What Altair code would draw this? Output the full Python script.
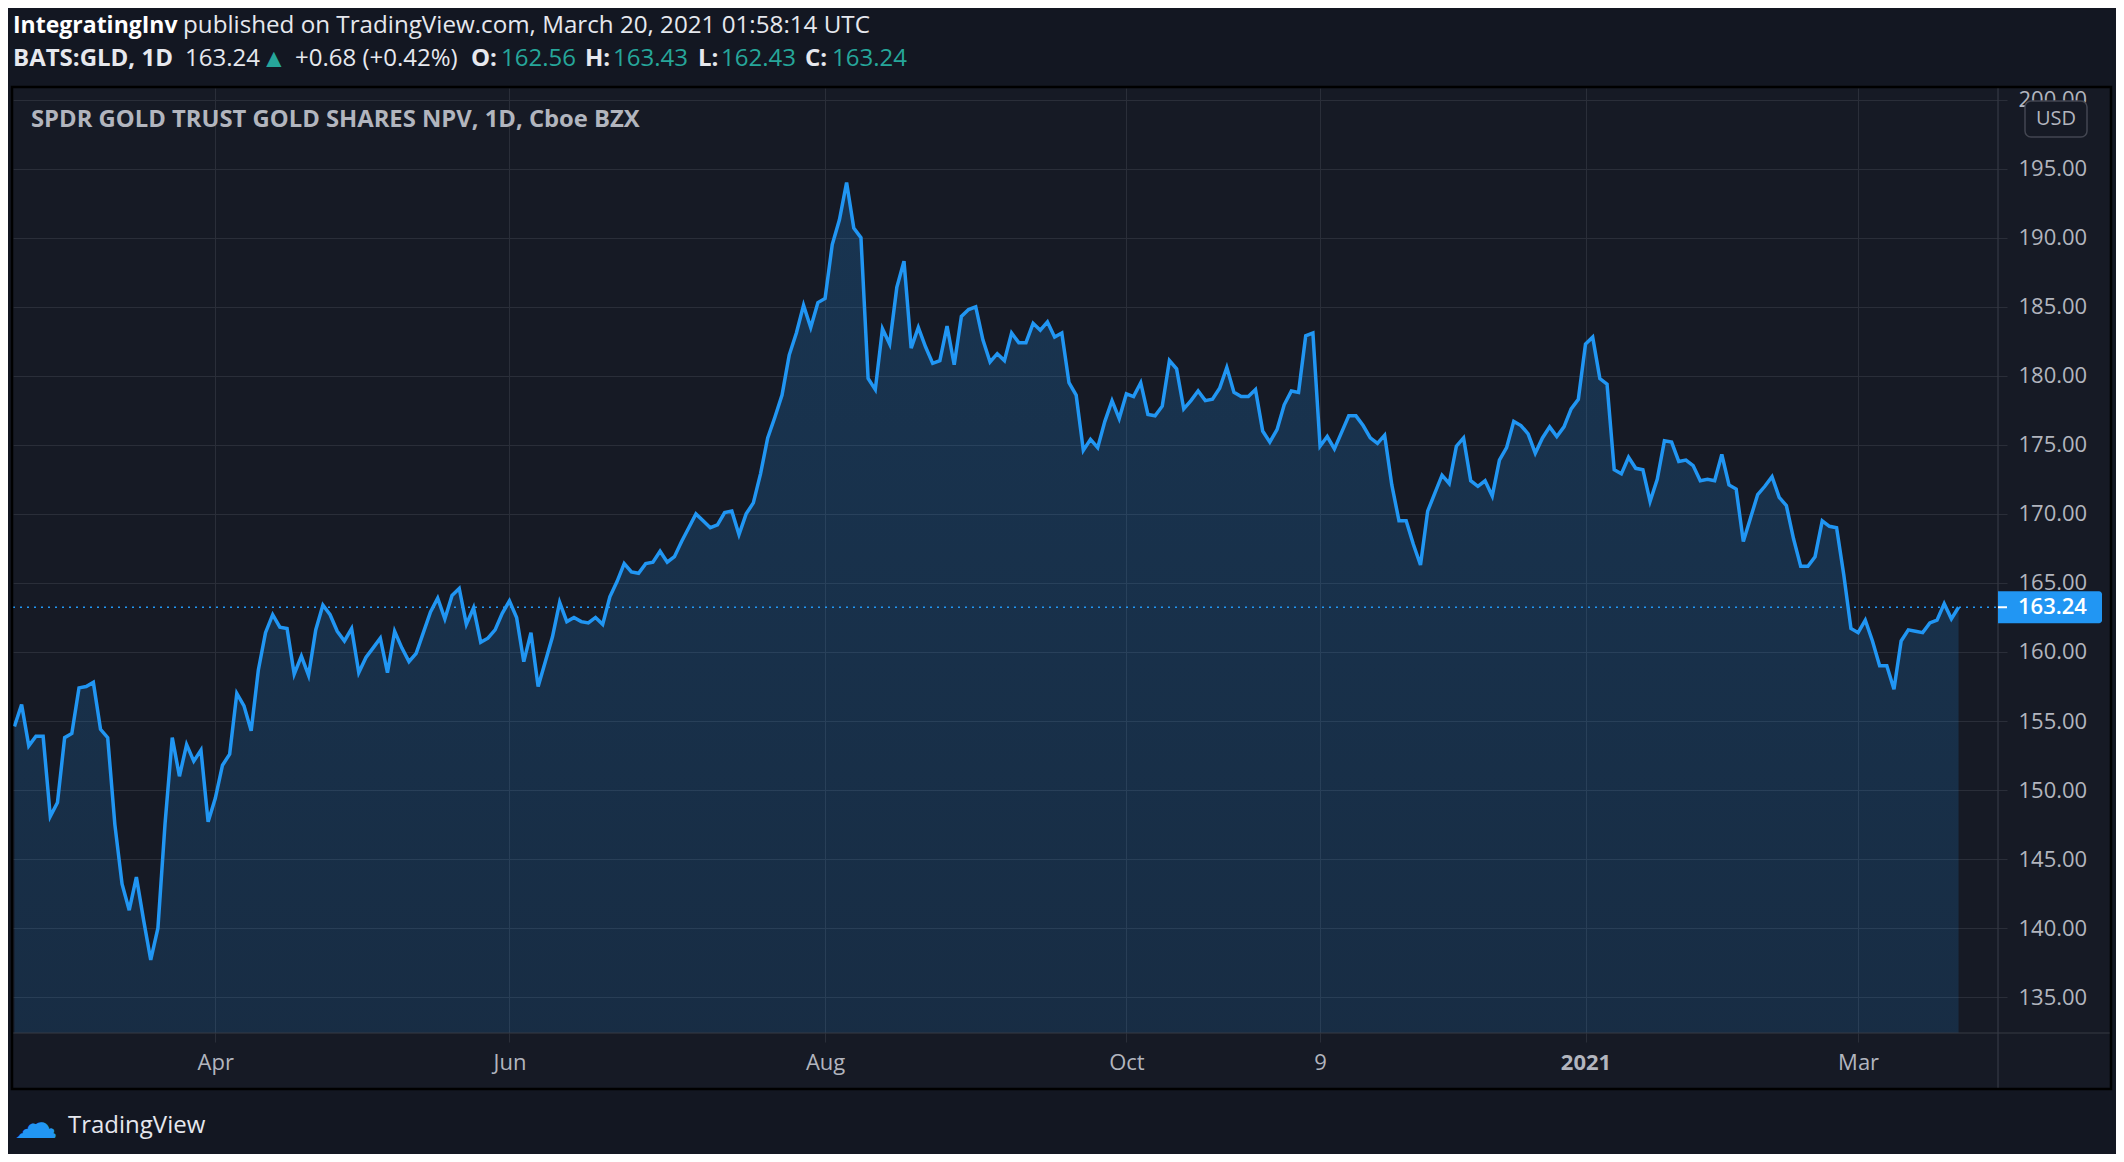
import altair as alt
import pandas as pd

# ---------------- data ----------------
close = [
    154.6, 156.2, 153.2, 153.9, 153.9, 148.1, 149.1, 153.8, 154.1, 157.4,
    157.5, 157.8, 154.4, 153.8, 147.5, 143.2, 141.3, 143.7, 140.6, 137.7,
    140.0, 147.6, 153.8, 151.0, 153.3, 152.1, 152.9, 147.7, 149.4, 151.8,
    152.6, 157.0, 156.1, 154.3, 158.7, 161.4, 162.7, 161.8, 161.7, 158.4,
    159.7, 158.3, 161.6, 163.4, 162.7, 161.5, 160.8, 161.7, 158.5, 159.6,
    160.3, 161.0, 158.5, 161.5,
    160.3, 159.3, 159.9, 161.4, 162.9, 163.9, 162.4, 164.1, 164.6, 162.0,
    163.2, 160.7, 161.0, 161.6, 162.8, 163.7, 162.5, 159.3, 161.4, 157.5,
    159.3, 161.1, 163.6, 162.2, 162.5, 162.2, 162.1, 162.5, 162.0, 164.0,
    165.1, 166.4, 165.8, 165.7, 166.4, 166.5, 167.3, 166.5, 166.9, 168.0,
    169.0, 170.0, 169.5, 169.0, 169.2, 170.1, 170.2, 168.5, 170.0, 170.8,
    172.9, 175.5, 177.0, 178.6,
    181.5, 183.1, 185.1, 183.5, 185.3, 185.6, 189.5, 191.3, 194.0, 190.7,
    190.0, 179.8, 179.0, 183.4, 182.3, 186.4, 188.3, 182.0, 183.5, 182.1,
    180.9, 181.1, 183.6, 180.8, 184.3, 184.8, 185.0, 182.6, 181.0, 181.6,
    181.1, 183.1, 182.4, 182.4, 183.8, 183.3, 183.9, 182.8, 183.1, 179.5,
    178.6, 174.6, 175.4, 174.8, 176.7, 178.2, 176.9, 178.7, 178.5, 179.5,
    177.2, 177.1, 177.8, 181.1, 180.5, 177.6, 178.2, 178.9,
    178.2, 178.3, 179.1, 180.6, 178.8, 178.5, 178.5, 179.0, 176.0, 175.2,
    176.1, 177.9, 178.9, 178.8, 182.9, 183.1, 174.9, 175.6, 174.7, 175.9,
    177.1, 177.1, 176.4, 175.5, 175.1, 175.7, 172.1, 169.5, 169.5, 167.8,
    166.3, 170.2, 171.5, 172.8, 172.2, 174.9, 175.5, 172.4, 172.0, 172.4,
    171.3, 173.9, 174.8, 176.7, 176.4, 175.8, 174.4, 175.5, 176.3, 175.6,
    176.3, 177.6, 178.3, 182.3, 182.8, 179.8,
    179.4, 173.2, 172.9, 174.1, 173.3, 173.2, 170.9, 172.5, 175.3, 175.2,
    173.8, 173.9, 173.5, 172.4, 172.5, 172.4, 174.3, 172.1, 171.8, 168.0,
    169.7, 171.4, 172.0, 172.7, 171.2, 170.6, 168.2, 166.2, 166.2, 166.9,
    169.5, 169.1, 169.0, 165.6, 161.7, 161.4, 162.3, 160.8, 159.0, 159.0,
    157.3, 160.8, 161.6, 161.5, 161.4, 162.1, 162.3, 163.5, 162.4, 163.24,
]

# time axis: bar index of each label and its text
tick_idx = [28, 69, 113, 155, 182, 219, 257]
tick_lbl = ["Apr", "Jun", "Aug", "Oct", "9", "2021", "Mar"]
bold_tick = 219

price_ticks = [135, 140, 145, 150, 155, 160, 165, 170, 175, 180, 185, 190, 195, 200]
last_price = 163.24

header_1 = ["IntegratingInv", "published on TradingView.com, March 20, 2021 01:58:14 UTC"]
header_2 = ["BATS:GLD, 1D", "163.24", "\u25B2", "+0.68 (+0.42%)",
            "O:", "162.56", "H:", "163.43", "L:", "162.43", "C:", "163.24"]
chart_title = "SPDR GOLD TRUST GOLD SHARES NPV, 1D, Cboe BZX"

# ---------------- style ----------------
FONT = "Open Sans"
BG_OUT = "#131722"
BG_PANE = "#161a25"
GRID = "#2a2e39"
SEP = "#363a45"
LBL = "#b2b5be"
BLUE = "#2196f3"
TEAL = "#26a69a"
WHITE = "#e6e8ee"

W, H = 1985, 945
X_DOM = [-0.2, 276.5]
Y_DOM = [132.41, 200.84]
PAD = {"left": 5, "top": 80, "right": 118, "bottom": 121}

xs = alt.Scale(domain=X_DOM, nice=False, zero=False)
ys = alt.Scale(domain=Y_DOM, nice=False, zero=False)

df = pd.DataFrame({"i": list(range(len(close))), "close": close})
one = pd.DataFrame({"k": [0]})

label_expr = "".join(f"datum.value == {i} ? '{l}' : " for i, l in zip(tick_idx, tick_lbl)) + "''"

x_axis = alt.Axis(
    values=tick_idx, labelExpr=label_expr, grid=True, gridColor=GRID, gridWidth=1,
    domain=False, ticks=True, tickSize=9, tickColor=GRID, labelColor=LBL,
    labelFont=FONT, labelFontSize=22, labelPadding=10, labelFlush=False,
    labelOverlap=False, title=None,
    labelFontWeight={"condition": {"test": f"datum.value == {bold_tick}", "value": "bold"},
                     "value": "normal"},
)
y_axis = alt.Axis(
    orient="right", values=price_ticks, format=".2f", grid=True, gridColor=GRID,
    gridWidth=1, domain=False, ticks=True, tickSize=9, tickColor=GRID,
    labelColor=LBL, labelFont=FONT, labelFontSize=22, labelPadding=11,
    labelOverlap=False, labelFlush=False, title=None,
)

grad = alt.LinearGradient(
    gradient="linear",
    stops=[alt.GradientStop(color="rgba(33,150,243,0.21)", offset=0),
           alt.GradientStop(color="rgba(33,150,243,0.02)", offset=1)],
    x1=0, x2=0, y1=0, y2=1,
)


def Y(datum):
    return alt.Y(datum=datum, scale=ys, axis=y_axis)


area = alt.Chart(df).mark_area(fill=grad, clip=True).encode(
    x=alt.X("i:Q", scale=xs, axis=x_axis),
    y=alt.Y("close:Q", scale=ys, axis=y_axis),
)
line = alt.Chart(df).mark_line(color=BLUE, strokeWidth=3.5, clip=True).encode(
    x=alt.X("i:Q", scale=xs, axis=x_axis),
    y=alt.Y("close:Q", scale=ys, axis=y_axis),
)
last_line = alt.Chart(one).mark_rule(color=BLUE, strokeWidth=1.6, strokeDash=[2, 5]).encode(
    x=alt.value(0), x2=alt.value(W), y=Y(last_price),
)


def rect(x0, x1, y0, y1, **kw):
    return alt.Chart(one).mark_rect(**kw).encode(
        x=alt.value(x0), x2=alt.value(x1), y=alt.value(y0), y2=alt.value(y1))


def vrule(x, y0, y1, color, width=1):
    return alt.Chart(one).mark_rule(color=color, strokeWidth=width).encode(
        x=alt.value(x), y=alt.value(y0), y2=alt.value(y1))


def hrule(y, x0, x1, color, width=1):
    return alt.Chart(one).mark_rule(color=color, strokeWidth=width).encode(
        y=alt.value(y), x=alt.value(x0), x2=alt.value(x1))


def txt(s, x, y, color, size=24, weight="normal", align="left"):
    return alt.Chart(one).mark_text(
        text=s, color=color, font=FONT, fontSize=size, fontWeight=weight,
        align=align, baseline="middle").encode(x=alt.value(x), y=alt.value(y))


L, R, T, B = -PAD["left"], W + PAD["right"], -PAD["top"], H + PAD["bottom"]

outer = [
    rect(L, R, T, -1, fill=BG_OUT),
    rect(L, -1, T, B, fill=BG_OUT),
    rect(2098, R, T, B, fill=BG_OUT),
    rect(L, R, 1001, B, fill=BG_OUT),
    rect(-1, 2098, -1, 1001, fill=None, stroke="#000000", strokeWidth=2.5),
]

separators = [vrule(W, -1, 1001, SEP, 1.2), hrule(H, -1, 2098, SEP, 1.2)]

tag = [
    alt.Chart(one).mark_rect(color=BLUE, cornerRadiusTopRight=3, cornerRadiusBottomRight=3).encode(
        x=alt.value(W), x2=alt.value(W + 104),
        y=Y(last_price + 1.16), y2=alt.Y2(datum=last_price - 1.16)),
    alt.Chart(one).mark_rule(color="#ffffff", strokeWidth=2).encode(
        x=alt.value(W), x2=alt.value(W + 9), y=Y(last_price)),
    alt.Chart(one).mark_text(text=f"{last_price:.2f}", color="#ffffff", font=FONT, fontSize=22,
                             fontWeight=600, align="left", baseline="middle").encode(
        x=alt.value(W + 20), y=Y(last_price)),
]

usd = [
    rect(W + 27, W + 89, 13, 49, fill=BG_PANE, stroke="#434651", strokeWidth=1.5, cornerRadius=6),
    txt("USD", W + 58, 31, LBL, size=20, align="center"),
]

# header lines (positions relative to plot origin)
h2x = [0, 172, 248, 282, 458, 488, 572, 600, 685, 708, 792, 819]
h2c = [WHITE, WHITE, TEAL, WHITE, WHITE, TEAL, WHITE, TEAL, WHITE, TEAL, WHITE, TEAL]
h2w = ["bold", "normal", "normal", "normal", "bold", "normal", "bold", "normal", "bold", "normal", "bold", "normal"]
h2s = [24, 24, 26, 24, 24, 24, 24, 24, 24, 24, 24, 24]
header = [
    txt(header_1[0], 0, -62, "#ffffff", size=23, weight="bold"),
    txt(header_1[1], 170, -62, WHITE, size=24.2),
]
for s, x0, c, w, fs in zip(header_2, h2x, h2c, h2w, h2s):
    header.append(txt(s, x0, -29, c, size=fs, weight=w))

title = [txt(chart_title, 18, 32, LBL, size=23.8, weight="bold")]
logo = [
    txt("\u2601", 23, 1037, BLUE, size=44, align="center"),
    txt("TradingView", 55, 1038, "#e6e8ee", size=24),
]

chart = alt.layer(
    area, line, last_line, *separators, *outer, *tag, *usd, *header, *title, *logo
).properties(
    width=W, height=H, padding=PAD,
    autosize=alt.AutoSizeParams(type="none"),
    background=BG_PANE,
).configure_view(stroke=None)

chart.save("out.html", embed_options={"renderer": "svg", "actions": False})
